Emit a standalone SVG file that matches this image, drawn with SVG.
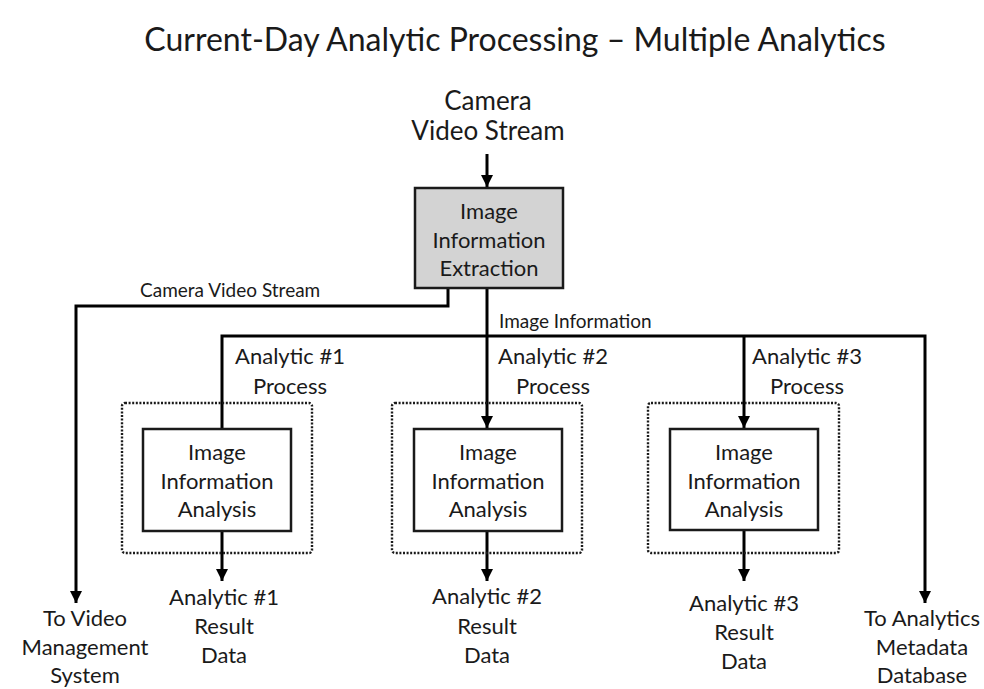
<svg xmlns="http://www.w3.org/2000/svg" width="984" height="689" viewBox="0 0 984 689">
  <style>
    text { font-family: Lato, "Open Sans", "Liberation Sans", sans-serif; fill: #1a1a1a; text-anchor: middle; }
    .title { font-size: 32px; }
    .lbl { font-size: 22px; }
    .big { font-size: 26px; }
    .small { font-size: 19px; text-anchor: start; }
    .wire { fill: none; stroke: #000; stroke-width: 3; }
    .box { fill: #fff; stroke: #1a1a1a; stroke-width: 2.5; }
    .grey { fill: #d3d3d3; }
    .group { fill: none; stroke: #1a1a1a; stroke-width: 2.4; stroke-dasharray: 2 1.6; }
  </style>
  <defs>
    <marker id="arrow" markerUnits="userSpaceOnUse" markerWidth="12" markerHeight="14" refX="12" refY="6" orient="auto">
      <path d="M0,0 L12,6 L0,12 Z" fill="#000"/>
    </marker>
  </defs>

  <rect width="984" height="689" fill="#fff"/>

  <text class="title" x="515" y="51">Current-Day Analytic Processing – Multiple Analytics</text>

  <g id="source">
    <text class="big" x="488" y="110">Camera</text>
    <text class="big" x="488" y="140">Video Stream</text>
  </g>

  <!-- connectors -->
  <g id="connectors">
    <path class="wire" d="M487,154 V187" marker-end="url(#arrow)"/>
    <path class="wire" d="M448,288 V306 H76 V603" marker-end="url(#arrow)"/>
    <path class="wire" d="M487,288 V336"/>
    <path class="wire" d="M222,428 V336 H925 V603" marker-end="url(#arrow)"/>
    <path class="wire" d="M487,336 V428" marker-end="url(#arrow)"/>
    <path class="wire" d="M744,336 V428" marker-end="url(#arrow)"/>
    <path class="wire" d="M222,531 V581" marker-end="url(#arrow)"/>
    <path class="wire" d="M487,531 V581" marker-end="url(#arrow)"/>
    <path class="wire" d="M744,531 V581" marker-end="url(#arrow)"/>
    <text class="small" x="140" y="297">Camera Video Stream</text>
    <text class="small" x="499" y="328">Image Information</text>
  </g>

  <g id="extraction">
    <rect class="box grey" x="415" y="188" width="148" height="100"/>
    <text class="lbl" x="489" y="219">Image</text>
    <text class="lbl" x="489" y="248">Information</text>
    <text class="lbl" x="489" y="276">Extraction</text>
  </g>

  <g id="analytic1">
    <text class="lbl" x="290" y="364">Analytic #1</text>
    <text class="lbl" x="290" y="394">Process</text>
    <rect class="group" x="122" y="403" width="190" height="150" rx="3"/>
    <rect class="box" x="143" y="429" width="148" height="102"/>
    <text class="lbl" x="217" y="460">Image</text>
    <text class="lbl" x="217" y="489">Information</text>
    <text class="lbl" x="217" y="517">Analysis</text>
  </g>

  <g id="analytic2">
    <text class="lbl" x="553" y="364">Analytic #2</text>
    <text class="lbl" x="553" y="394">Process</text>
    <rect class="group" x="392" y="403" width="190" height="150" rx="3"/>
    <rect class="box" x="414" y="429" width="148" height="102"/>
    <text class="lbl" x="488" y="460">Image</text>
    <text class="lbl" x="488" y="489">Information</text>
    <text class="lbl" x="488" y="517">Analysis</text>
  </g>

  <g id="analytic3">
    <text class="lbl" x="807" y="364">Analytic #3</text>
    <text class="lbl" x="807" y="394">Process</text>
    <rect class="group" x="648" y="403" width="191" height="150" rx="3"/>
    <rect class="box" x="670" y="429" width="148" height="101"/>
    <text class="lbl" x="744" y="460">Image</text>
    <text class="lbl" x="744" y="489">Information</text>
    <text class="lbl" x="744" y="517">Analysis</text>
  </g>

  <g id="result1">
    <text class="lbl" x="224" y="605">Analytic #1</text>
    <text class="lbl" x="224" y="634">Result</text>
    <text class="lbl" x="224" y="663">Data</text>
  </g>
  <g id="result2">
    <text class="lbl" x="487" y="604">Analytic #2</text>
    <text class="lbl" x="487" y="634">Result</text>
    <text class="lbl" x="487" y="663">Data</text>
  </g>
  <g id="result3">
    <text class="lbl" x="744" y="611">Analytic #3</text>
    <text class="lbl" x="744" y="640">Result</text>
    <text class="lbl" x="744" y="669">Data</text>
  </g>

  <g id="vms">
    <text class="lbl" x="85" y="626">To Video</text>
    <text class="lbl" x="85" y="655">Management</text>
    <text class="lbl" x="85" y="683">System</text>
  </g>
  <g id="metadata-db">
    <text class="lbl" x="922" y="626">To Analytics</text>
    <text class="lbl" x="922" y="655">Metadata</text>
    <text class="lbl" x="922" y="683">Database</text>
  </g>
</svg>
